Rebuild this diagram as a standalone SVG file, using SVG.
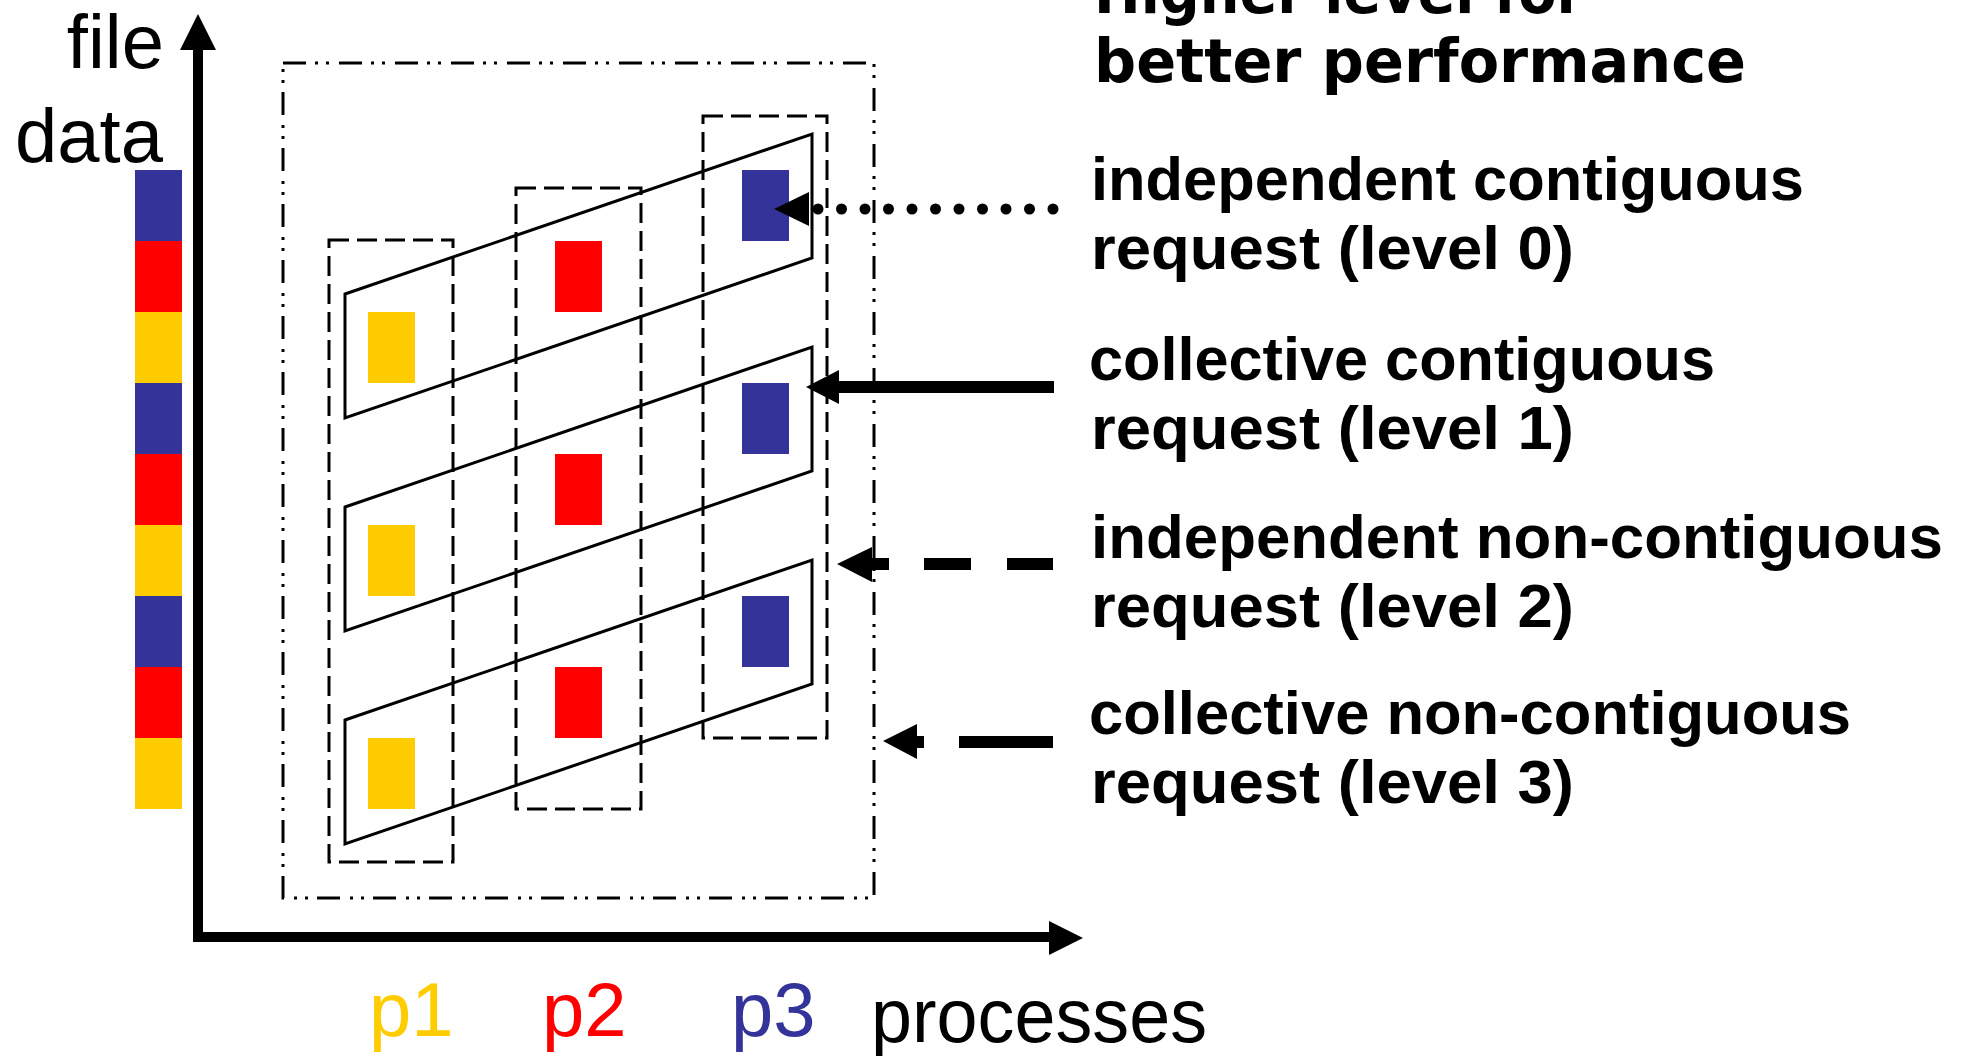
<svg xmlns="http://www.w3.org/2000/svg" width="1968" height="1056" viewBox="0 0 1968 1056">
  <defs>
    <style>
      .axis { stroke: #000; stroke-width: 10; fill: none; }
      .outer { stroke: #000; stroke-width: 3; fill: none; stroke-dasharray: 23 9 3 8 3 10; }
      .proc { stroke: #000; stroke-width: 3; fill: none; stroke-dasharray: 20 8; }
      .req { stroke: #000; stroke-width: 3; fill: none; stroke-linejoin: miter; }
      .blue { fill: #333399; }
      .red { fill: #FF0000; }
      .yel { fill: #FFCC00; }
      .lbl { font-family: "Liberation Sans", Arial, sans-serif; font-size: 76px; fill: #000; }
      .head { font-family: "DejaVu Sans", Verdana, sans-serif; font-weight: bold; font-size: 60px; fill: #000; }
      .leg { font-family: "Liberation Sans", Arial, sans-serif; font-weight: bold; font-size: 62px; fill: #000; }
      .ink { fill: #000; }
    </style>
  </defs>

  <rect width="1968" height="1056" fill="#fff"/>

  <!-- axes -->
  <g id="axes">
    <line class="axis" x1="198" y1="46" x2="198" y2="942"/>
    <polygon class="ink" points="198,14 180,50 216,50"/>
    <line class="axis" x1="193" y1="937" x2="1052" y2="937"/>
    <polygon class="ink" points="1083,938 1049,921 1049,955"/>
  </g>

  <!-- file data strip -->
  <g id="file-data">
    <rect class="blue" x="135" y="170" width="47" height="71"/>
    <rect class="red" x="135" y="241" width="47" height="71"/>
    <rect class="yel" x="135" y="312" width="47" height="71"/>
    <rect class="blue" x="135" y="383" width="47" height="71"/>
    <rect class="red" x="135" y="454" width="47" height="71"/>
    <rect class="yel" x="135" y="525" width="47" height="71"/>
    <rect class="blue" x="135" y="596" width="47" height="71"/>
    <rect class="red" x="135" y="667" width="47" height="71"/>
    <rect class="yel" x="135" y="738" width="47" height="71"/>
  </g>

  <!-- collective region enclosing all processes -->
  <g id="collective-box">
    <rect class="outer" x="283" y="63" width="591" height="835"/>
  </g>

  <!-- per-process columns -->
  <g id="process-p1">
    <rect class="proc" x="329" y="240" width="124" height="622"/>
    <rect class="yel" x="368" y="312" width="47" height="71"/>
    <rect class="yel" x="368" y="525" width="47" height="71"/>
    <rect class="yel" x="368" y="738" width="47" height="71"/>
  </g>
  <g id="process-p2">
    <rect class="proc" x="516" y="188" width="125" height="621"/>
    <rect class="red" x="555" y="241" width="47" height="71"/>
    <rect class="red" x="555" y="454" width="47" height="71"/>
    <rect class="red" x="555" y="667" width="47" height="71"/>
  </g>
  <g id="process-p3">
    <rect class="proc" x="703" y="116" width="124" height="622"/>
    <rect class="blue" x="742" y="170" width="47" height="71"/>
    <rect class="blue" x="742" y="383" width="47" height="71"/>
    <rect class="blue" x="742" y="596" width="47" height="71"/>
  </g>

  <!-- contiguous requests spanning processes -->
  <g id="request-1">
    <polygon class="req" points="345,294 812,134 812,258 345,418"/>
  </g>
  <g id="request-2">
    <polygon class="req" points="345,507 812,347 812,471 345,631"/>
  </g>
  <g id="request-3">
    <polygon class="req" points="345,720 812,560 812,684 345,844"/>
  </g>

  <!-- level pointers -->
  <g id="connectors">
    <g id="arrow-level0">
      <polygon class="ink" points="774,209 809,192 809,226"/>
      <g class="ink">
        <circle cx="818" cy="209" r="5.5"/>
        <circle cx="841.5" cy="209" r="5.5"/>
        <circle cx="865" cy="209" r="5.5"/>
        <circle cx="888.5" cy="209" r="5.5"/>
        <circle cx="912" cy="209" r="5.5"/>
        <circle cx="935.5" cy="209" r="5.5"/>
        <circle cx="959" cy="209" r="5.5"/>
        <circle cx="982.5" cy="209" r="5.5"/>
        <circle cx="1006" cy="209" r="5.5"/>
        <circle cx="1029.5" cy="209" r="5.5"/>
        <circle cx="1053" cy="209" r="5.5"/>
      </g>
    </g>
    <g id="arrow-level1">
      <polygon class="ink" points="806,387 839,370 839,404"/>
      <rect class="ink" x="838" y="381" width="216" height="12"/>
    </g>
    <g id="arrow-level2">
      <polygon class="ink" points="837,564 872,547 872,582"/>
      <rect class="ink" x="871" y="558" width="18" height="12"/>
      <rect class="ink" x="924" y="558" width="47" height="12"/>
      <rect class="ink" x="1007" y="558" width="46" height="12"/>
    </g>
    <g id="arrow-level3">
      <polygon class="ink" points="883,741 917,724 917,759"/>
      <rect class="ink" x="916" y="736" width="8" height="12"/>
      <rect class="ink" x="959" y="736" width="94" height="12"/>
    </g>
  </g>

  <!-- axis labels -->
  <g id="axis-labels">
    <text class="lbl" x="164" y="68" text-anchor="end">file</text>
    <text class="lbl" x="163" y="162" text-anchor="end">data</text>
    <text class="lbl" x="369" y="1036" style="fill:#FFCC00">p1</text>
    <text class="lbl" x="542" y="1036" style="fill:#FF0000">p2</text>
    <text class="lbl" x="731" y="1036" style="fill:#333399">p3</text>
    <text class="lbl" x="871" y="1042" textLength="336" lengthAdjust="spacingAndGlyphs">processes</text>
  </g>

  <!-- legend -->
  <g id="legend-title">
    <text class="head" x="1094" y="13" textLength="490" lengthAdjust="spacingAndGlyphs">Higher level for</text>
    <text class="head" x="1094" y="82" textLength="652" lengthAdjust="spacingAndGlyphs">better performance</text>
  </g>
  <g id="legend-level0">
    <text class="leg" x="1091" y="200" textLength="713" lengthAdjust="spacingAndGlyphs">independent contiguous</text>
    <text class="leg" x="1091" y="269" textLength="483" lengthAdjust="spacingAndGlyphs">request (level 0)</text>
  </g>
  <g id="legend-level1">
    <text class="leg" x="1089" y="380" textLength="626" lengthAdjust="spacingAndGlyphs">collective contiguous</text>
    <text class="leg" x="1091" y="449" textLength="483" lengthAdjust="spacingAndGlyphs">request (level 1)</text>
  </g>
  <g id="legend-level2">
    <text class="leg" x="1091" y="558" textLength="852" lengthAdjust="spacingAndGlyphs">independent non-contiguous</text>
    <text class="leg" x="1091" y="627" textLength="483" lengthAdjust="spacingAndGlyphs">request (level 2)</text>
  </g>
  <g id="legend-level3">
    <text class="leg" x="1089" y="734" textLength="762" lengthAdjust="spacingAndGlyphs">collective non-contiguous</text>
    <text class="leg" x="1091" y="803" textLength="483" lengthAdjust="spacingAndGlyphs">request (level 3)</text>
  </g>
</svg>
